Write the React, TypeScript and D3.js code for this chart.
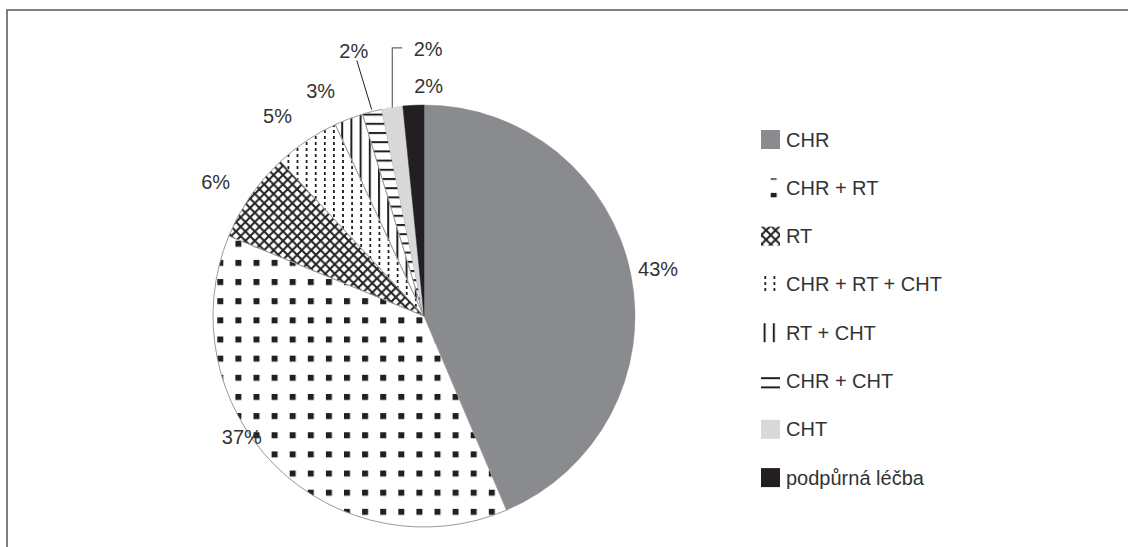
import React from "react";
import * as d3 from "d3";

const categories = ["CHR", "CHR + RT", "RT", "CHR + RT + CHT", "RT + CHT", "CHR + CHT", "CHT", "podpůrná léčba"];
const values = [43.6, 37.6, 6.9, 5.0, 2.2, 1.5, 1.6, 1.6];
const labels = ["43%", "37%", "6%", "5%", "3%", "2%", "2%", "2%"];
const fills = ["#8a8b8f", "url(#pSquares)", "url(#pCross)", "url(#pDots)", "url(#pVLines)", "url(#pHLines)", "#d9d9d9", "#231f20"];

// layout-only nudges for label placement (dx, dy from radial position)
const labelNudges: Record<number, [number, number]> = {
  0: [-6, 2],
  1: [-10, -53],
  2: [-7, 6],
  3: [-10, 3],
  4: [-16, 4],
  5: [-10, -28],
  6: [41, -25],
  7: [17, 15],
};

const W = 1128;
const H = 547;
const cx = 424;
const cy = 316;
const r = 211;
const labelR = 245;
const FONT = "'Liberation Sans', Arial, sans-serif";
const TXT = "#333";
const FS = 20;

export default function App() {
  const pie = d3.pie<number>().sort(null).startAngle(0).endAngle(2 * Math.PI);
  const arcs = pie(values);
  const arcGen = d3.arc<d3.PieArcDatum<number>>().innerRadius(0).outerRadius(r);
  const polar = (a: number, rad: number): [number, number] => [Math.sin(a) * rad, -Math.cos(a) * rad];

  const labelPos = arcs.map((a, i) => {
    const mid = (a.startAngle + a.endAngle) / 2;
    const [x, y] = polar(mid, labelR);
    const n = labelNudges[i] || [0, 0];
    return [cx + x + n[0], cy + y + n[1]] as [number, number];
  });

  const legendY0 = 139.5;
  const legendStep = 48.3;

  return (
    <svg width={W} height={H} style={{ position: "absolute", left: 0, top: 0, background: "#fff" }}>
      <defs>
        <pattern id="pSquares" patternUnits="userSpaceOnUse" x={227.7} y={250.3} width={18.1} height={19.15}>
          <rect width={18.1} height={19.15} fill="#fff" />
          <rect x={0} y={0} width={6} height={6} fill="#231f20" />
        </pattern>
        <pattern id="pCross" patternUnits="userSpaceOnUse" x={0} y={0} width={9.4} height={9.4}>
          <rect width={9.4} height={9.4} fill="#fff" />
          <path d="M-1,-1 L10.4,10.4 M10.4,-1 L-1,10.4" stroke="#231f20" strokeWidth={2} />
        </pattern>
        <pattern id="pDots" patternUnits="userSpaceOnUse" x={0} y={0} width={9.1} height={6}>
          <rect width={9.1} height={6} fill="#fff" />
          <rect x={0} y={0} width={1.8} height={3} fill="#231f20" />
        </pattern>
        <pattern id="pVLines" patternUnits="userSpaceOnUse" x={0} y={0} width={9.2} height={10}>
          <rect width={9.2} height={10} fill="#fff" />
          <rect x={0} y={0} width={2} height={10} fill="#231f20" />
        </pattern>
        <pattern id="pHLines" patternUnits="userSpaceOnUse" x={0} y={0} width={10} height={9.2}>
          <rect width={10} height={9.2} fill="#fff" />
          <rect x={0} y={0} width={10} height={2} fill="#231f20" />
        </pattern>
      </defs>

      <rect x={7} y={10} width={1300} height={700} fill="none" stroke="#555" strokeWidth={1.5} />

      <g transform={`translate(${cx},${cy})`}>
        {arcs.map((a, i) => (
          <path
            key={i}
            d={arcGen(a) || ""}
            fill={fills[i]}
            stroke={fills[i].startsWith("url") ? "#9a9a9a" : fills[i]}
            strokeWidth={fills[i].startsWith("url") ? 1 : 0.5}
          />
        ))}
      </g>

      {(() => {
        const a5 = arcs[5];
        const m5 = (a5.startAngle + a5.endAngle) / 2;
        const [x5, y5] = polar(m5, r + 2);
        const a6 = arcs[6];
        const m6 = (a6.startAngle + a6.endAngle) / 2;
        const [x6, y6] = polar(m6, r);
        return (
          <g>
            <line x1={cx + x5} y1={cy + y5} x2={labelPos[5][0] + 3} y2={labelPos[5][1] + 10} stroke="#231f20" strokeWidth={1} />
            <polyline
              points={`${cx + x6},${cy + y6} ${cx + x6},${labelPos[6][1] - 1} ${labelPos[6][0] - 26},${labelPos[6][1] - 1}`}
              fill="none"
              stroke="#666"
              strokeWidth={1.2}
            />
          </g>
        );
      })()}

      {labels.map((t, i) => (
        <text
          key={i}
          x={labelPos[i][0]}
          y={labelPos[i][1] + 7}
          textAnchor="middle"
          fontFamily={FONT}
          fontSize={FS}
          fill={TXT}
        >
          {t}
        </text>
      ))}

      {categories.map((c, i) => {
        const yc = legendY0 + legendStep * i;
        return (
          <g key={c}>
            <rect x={761} y={yc - 9.5} width={19} height={19} fill={fills[i]} />
            <text x={786} y={yc + 7} fontFamily={FONT} fontSize={FS} fill={TXT}>
              {c}
            </text>
          </g>
        );
      })}
    </svg>
  );
}
